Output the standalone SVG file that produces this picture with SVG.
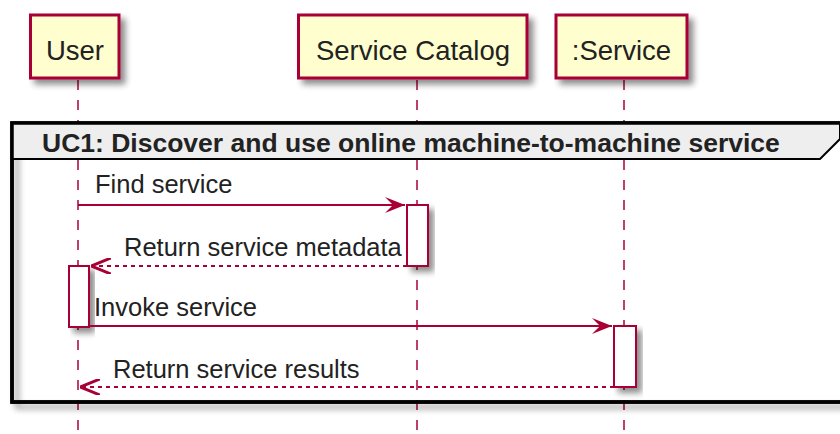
<svg xmlns="http://www.w3.org/2000/svg" width="840" height="434" viewBox="0 0 840 434">
<defs>
<filter id="sh" x="-20%" y="-20%" width="150%" height="150%">
<feGaussianBlur in="SourceAlpha" stdDeviation="3"/>
<feOffset dx="5" dy="5" result="b"/>
<feComponentTransfer><feFuncA type="linear" slope="0.45"/></feComponentTransfer>
<feMerge><feMergeNode/><feMergeNode in="SourceGraphic"/></feMerge>
</filter>
<marker id="ah" viewBox="0 0 20 16" refX="20" refY="8" markerWidth="20" markerHeight="16" markerUnits="userSpaceOnUse" orient="auto">
<polygon points="0,0 20,8 0,16 8,8" fill="#A80036"/>
</marker>
<marker id="ao" viewBox="0 0 20 16" refX="20" refY="8" markerWidth="20" markerHeight="16" markerUnits="userSpaceOnUse" orient="auto">
<polyline points="0,0 20,8 0,16" fill="none" stroke="#A80036" stroke-width="3"/>
</marker>
</defs>
<style>
.part{fill:#FEFECE;stroke:#A80036;stroke-width:3}
.ptxt{font-family:"Liberation Sans",Arial,sans-serif;font-size:27.5px;fill:#222;text-anchor:middle}
.life{stroke:#A80036;stroke-width:2;stroke-dasharray:10,10;opacity:0.75;fill:none}
.act{fill:#FFFFFF;stroke:#A80036;stroke-width:2}
.msg{stroke:#A80036;stroke-width:2;fill:none}
.ret{stroke:#A80036;stroke-width:2;stroke-dasharray:4,4;fill:none}
.mtxt{font-family:"Liberation Sans",Arial,sans-serif;font-size:25.5px;fill:#222}
.gtxt{font-family:"Liberation Sans",Arial,sans-serif;font-size:26.5px;font-weight:bold;fill:#222}
</style>
<rect width="840" height="434" fill="#FFFFFF"/>
<g id="lifelines">
<line class="life" x1="78" y1="80" x2="78" y2="434"/>
<line class="life" x1="417" y1="80" x2="417" y2="434"/>
<line class="life" x1="624" y1="80" x2="624" y2="434"/>
</g>
<g id="group-uc1">
<rect x="12" y="123" width="840" height="279" fill="none" stroke="#000" stroke-width="3.5" filter="url(#sh)"/>
<polygon points="12,123 840,123 840,139 820,159 12,159" fill="#EEEEEE" stroke="#000" stroke-width="2"/>
<rect x="12" y="123" width="840" height="279" fill="none" stroke="#000" stroke-width="3.5"/>
<text class="gtxt" x="42" y="152">UC1: Discover and use online machine-to-machine service</text>
</g>
<g id="user">
<rect class="part" x="30.5" y="15" width="88.5" height="63" filter="url(#sh)"/>
<text class="ptxt" x="75" y="60">User</text>
</g>
<g id="service-catalog">
<rect class="part" x="298.5" y="15" width="228.5" height="63" filter="url(#sh)"/>
<text class="ptxt" x="413" y="60">Service Catalog</text>
</g>
<g id="service">
<rect class="part" x="556" y="15" width="131" height="63" filter="url(#sh)"/>
<text class="ptxt" x="621.5" y="60">:Service</text>
</g>
<g id="activations">
<rect class="act" x="407" y="205" width="21" height="61" filter="url(#sh)"/>
<rect class="act" x="69" y="266" width="20" height="61" filter="url(#sh)"/>
<rect class="act" x="614" y="326" width="22" height="61" filter="url(#sh)"/>
</g>
<g id="connectors">
<line class="msg" x1="78" y1="205" x2="405" y2="205" marker-end="url(#ah)"/>
<line class="ret" x1="407" y1="266" x2="91" y2="266" marker-end="url(#ao)"/>
<line class="msg" x1="89" y1="326" x2="612" y2="326" marker-end="url(#ah)"/>
<line class="ret" x1="614" y1="387" x2="80" y2="387" marker-end="url(#ao)"/>
</g>
<g id="labels">
<text class="mtxt" x="95" y="193">Find service</text>
<text class="mtxt" x="124" y="256">Return service metadata</text>
<text class="mtxt" x="94" y="316">Invoke service</text>
<text class="mtxt" x="113" y="378">Return service results</text>
</g>
</svg>
